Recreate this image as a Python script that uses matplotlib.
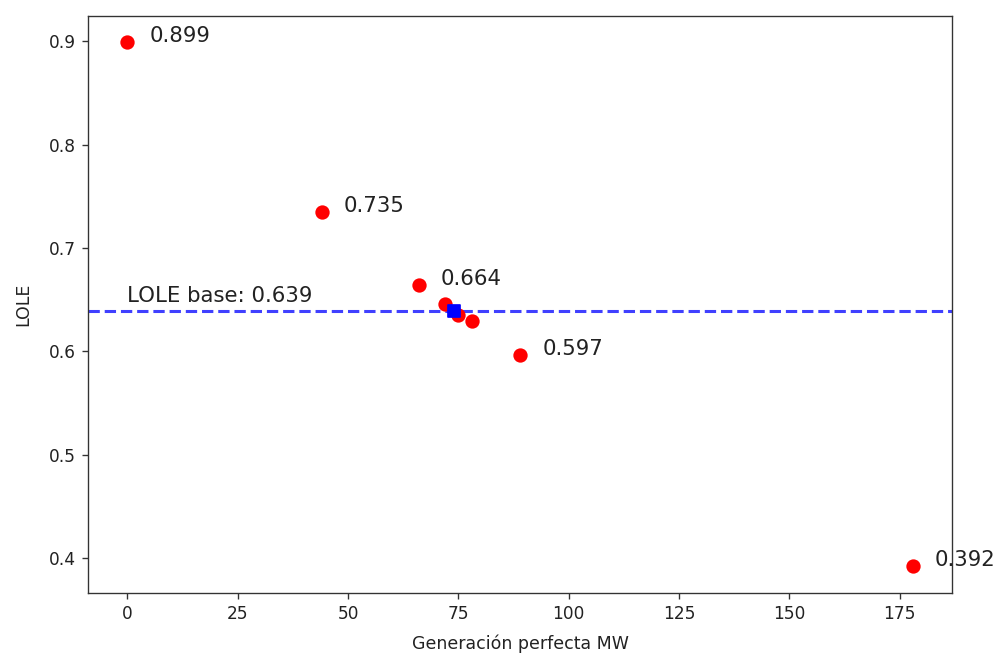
import numpy as np
import matplotlib.pyplot as plt

# capacidad perfecta agregada (MW) y LOLE resultante
gen_mw = [0, 44, 66, 72, 75, 78, 89, 178]
lole = [0.899, 0.735, 0.664, 0.646, 0.635, 0.629, 0.597, 0.392]
labeled = [0, 1, 2, 6, 7]

lole_base = 0.639
base_mw = 74

dpi = 122.4
fig = plt.figure(figsize=(995 / dpi, 656 / dpi), dpi=dpi)
ax = fig.add_axes([0.0885, 0.0965, 0.8685, 0.879])

ax.scatter(gen_mw, lole, color='red', s=55, zorder=3)
ax.scatter([base_mw], [lole_base], color='blue', marker='s', s=55, zorder=4)
ax.axhline(lole_base, color='blue', linestyle='--', lw=1.8, alpha=0.75)

for i in labeled:
    ax.text(gen_mw[i] + 5, lole[i], f"{lole[i]:.3f}", fontsize=12.5, color='#222222')
ax.text(0, lole_base + 0.009, f"LOLE base: {lole_base}", fontsize=12.5, color='#222222')

ax.set_xlabel('Generación perfecta MW', fontsize=10.2, color='#222222', labelpad=7)
ax.set_ylabel('LOLE', fontsize=10.2, color='#222222', labelpad=10)
ax.tick_params(labelsize=10, labelcolor='#222222', color='#333333')
for sp in ax.spines.values():
    sp.set_color('#333333')

fig.savefig('out.png', dpi=dpi)
